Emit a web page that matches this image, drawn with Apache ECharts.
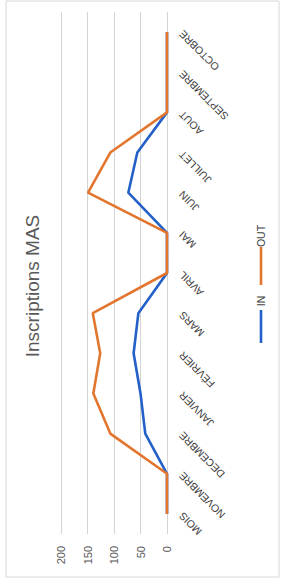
<!DOCTYPE html>
<html>
<head>
<meta charset="utf-8">
<script src="https://cdn.jsdelivr.net/npm/echarts@6/dist/echarts.min.js"></script>
<style>
html, body { margin: 0; padding: 0; background: #fff; }
#chart { width: 281px; height: 581px; }
</style>
</head>
<body>
<div id="chart"></div>
<script>
// mois (de bas en haut sur l'image)
var mois = ['MOIS', 'NOVEMBRE', 'DECEMBRE', 'JANVIER', 'FÉVRIER', 'MARS', 'AVRIL', 'MAI', 'JUIN', 'JUILLET', 'AOUT', 'SEPTEMBRE', 'OCTOBRE'];
var inscritsIn = [0, 0, 41, 50, 63, 54, 0, 0, 73, 56, 0, 0, 0];
var inscritsOut = [0, 0, 107, 139, 126, 140, 0, 0, 149, 107, 0, 0, 0];
var valeurMax = 200;
var pas = 50;

var couleurIn = '#2360c8';
var couleurOut = '#e2762f';
var police = 'Liberation Sans';

var myChart = echarts.init(document.getElementById('chart'), null, { renderer: 'svg' });

myChart.setOption({
  animation: false,
  grid: { left: 61, right: 114, top: 12, bottom: 47, containLabel: false },
  xAxis: {
    type: 'value',
    inverse: true,
    min: 0,
    max: valeurMax,
    interval: pas,
    position: 'bottom',
    axisLine: { show: false },
    axisTick: { show: false },
    splitLine: { lineStyle: { color: '#d4d4d4', width: 1 } },
    axisLabel: { rotate: 90, margin: 12, color: '#595959', fontSize: 11, fontFamily: police }
  },
  yAxis: {
    type: 'category',
    data: mois,
    position: 'right',
    boundaryGap: true,
    axisLine: { show: false },
    axisTick: { show: false },
    splitLine: { show: false },
    axisLabel: {
      rotate: 135,
      align: 'right',
      verticalAlign: 'middle',
      margin: 14,
      interval: 0,
      color: '#404040',
      fontSize: 10.5,
      fontFamily: police
    }
  },
  series: [
    {
      name: 'IN',
      type: 'line',
      data: inscritsIn,
      showSymbol: false,
      lineStyle: { color: couleurIn, width: 2.6 },
      itemStyle: { color: couleurIn }
    },
    {
      name: 'OUT',
      type: 'line',
      data: inscritsOut,
      showSymbol: false,
      lineStyle: { color: couleurOut, width: 2.6 },
      itemStyle: { color: couleurOut }
    }
  ],
  graphic: [
    // cadre
    { type: 'rect', shape: { x: 6, y: 1, width: 273, height: 576 }, style: { fill: 'none', stroke: '#d6d6d6', lineWidth: 1 }, silent: true },
    // titre
    { type: 'text', x: 32, y: 286, rotation: Math.PI / 2,
      style: { text: 'Inscriptions MAS', align: 'center', verticalAlign: 'middle', fontSize: 19, fontFamily: police, fill: '#595959' } },
    // legende
    { type: 'line', shape: { x1: 261, y1: 247, x2: 261, y2: 285 }, style: { stroke: couleurOut, lineWidth: 2.6 } },
    { type: 'text', x: 261, y: 236, rotation: Math.PI / 2,
      style: { text: 'OUT', align: 'center', verticalAlign: 'middle', fontSize: 10.5, fontFamily: police, fill: '#404040' } },
    { type: 'line', shape: { x1: 261, y1: 310, x2: 261, y2: 343 }, style: { stroke: couleurIn, lineWidth: 2.6 } },
    { type: 'text', x: 261, y: 301, rotation: Math.PI / 2,
      style: { text: 'IN', align: 'center', verticalAlign: 'middle', fontSize: 10.5, fontFamily: police, fill: '#404040' } }
  ]
});
</script>
</body>
</html>
